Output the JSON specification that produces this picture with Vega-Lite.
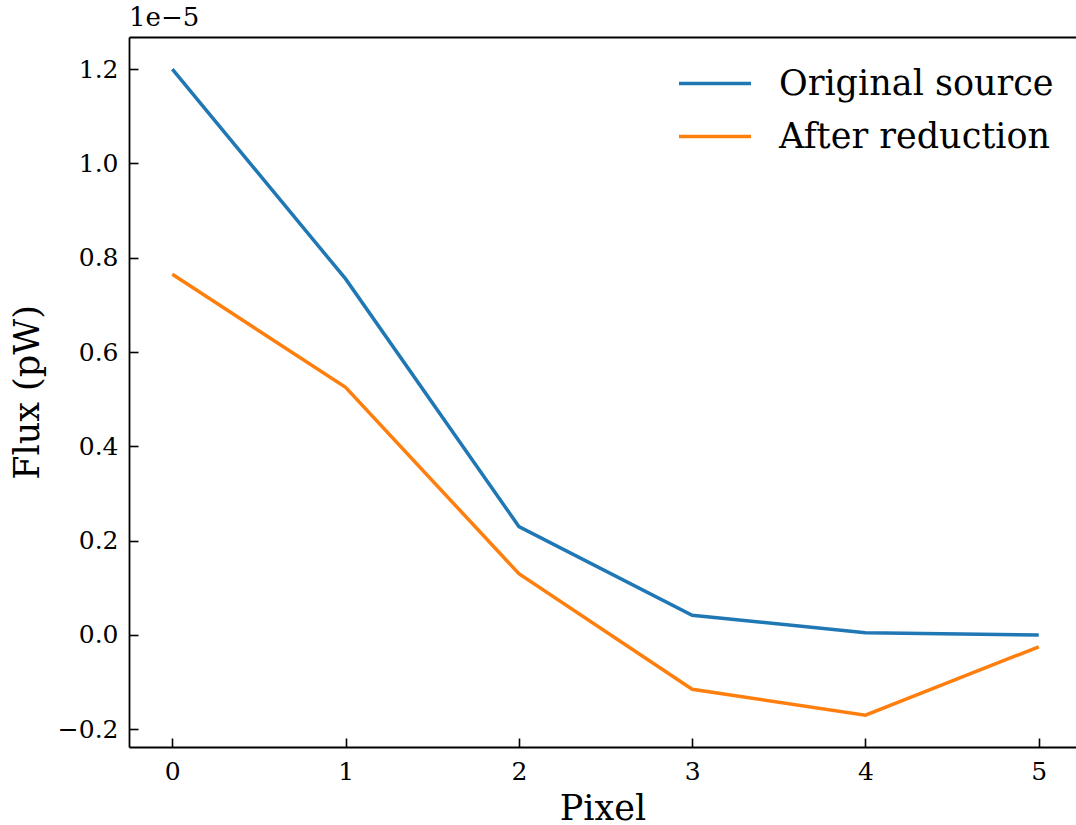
{
  "$schema": "https://vega.github.io/schema/vega-lite/v6.json",
  "width": 947,
  "height": 710,
  "autosize": {"type": "none"},
  "padding": {"left": 129, "top": 37, "right": 0, "bottom": 78},
  "background": "white",
  "config": {
    "font": "DejaVu Serif",
    "view": {"stroke": null},
    "axis": {
      "labelFont": "DejaVu Serif",
      "titleFont": "DejaVu Serif",
      "labelFontSize": 25,
      "titleFontSize": 35,
      "labelColor": "black",
      "titleColor": "black",
      "titleFontWeight": "normal",
      "domainColor": "black",
      "domainWidth": 1.8,
      "tickColor": "black",
      "tickWidth": 1.6,
      "tickSize": -9,
      "grid": false
    }
  },
  "title": {
    "text": "1e−5",
    "anchor": "start",
    "frame": "group",
    "fontSize": 26,
    "font": "DejaVu Serif",
    "fontWeight": "normal",
    "color": "black",
    "offset": 6
  },
  "data": {
    "values": [
      {"pixel": 0, "flux": 1.2, "series": "Original source"},
      {"pixel": 1, "flux": 0.755, "series": "Original source"},
      {"pixel": 2, "flux": 0.23, "series": "Original source"},
      {"pixel": 3, "flux": 0.042, "series": "Original source"},
      {"pixel": 4, "flux": 0.005, "series": "Original source"},
      {"pixel": 5, "flux": 0.0, "series": "Original source"},
      {"pixel": 0, "flux": 0.765, "series": "After reduction"},
      {"pixel": 1, "flux": 0.525, "series": "After reduction"},
      {"pixel": 2, "flux": 0.13, "series": "After reduction"},
      {"pixel": 3, "flux": -0.115, "series": "After reduction"},
      {"pixel": 4, "flux": -0.17, "series": "After reduction"},
      {"pixel": 5, "flux": -0.025, "series": "After reduction"}
    ]
  },
  "resolve": {"axis": {"x": "independent"}},
  "layer": [
    {
      "mark": {"type": "line", "strokeWidth": 3.5, "clip": true},
      "encoding": {
        "x": {
          "field": "pixel",
          "type": "quantitative",
          "scale": {"domain": [-0.25, 5.215], "nice": false, "zero": false},
          "axis": {
            "title": "Pixel",
            "values": [0, 1, 2, 3, 4, 5],
            "format": "d",
            "labelPadding": 21,
            "titlePadding": 7
          }
        },
        "y": {
          "field": "flux",
          "type": "quantitative",
          "scale": {"domain": [-0.2375, 1.268], "nice": false, "zero": false},
          "axis": {
            "title": "Flux (pW)",
            "values": [-0.2, 0, 0.2, 0.4, 0.6, 0.8, 1.0, 1.2],
            "format": ".1f",
            "labelPadding": 20,
            "titlePadding": 12
          }
        },
        "color": {
          "field": "series",
          "type": "nominal",
          "scale": {"domain": ["Original source", "After reduction"], "range": ["#1f77b4", "#ff7f0e"]},
          "legend": {
            "title": null,
            "orient": "none",
            "legendX": 548,
            "legendY": 29,
            "padding": 0,
            "symbolType": "stroke",
            "symbolSize": 5184,
            "symbolStrokeWidth": 3.5,
            "labelFont": "DejaVu Serif",
            "labelFontSize": 35,
            "labelColor": "black",
            "labelOffset": 26,
            "clipHeight": 35,
            "rowPadding": 17,
            "labelLimit": 500
          }
        }
      }
    },
    {
      "mark": {"type": "line", "opacity": 0},
      "encoding": {
        "x": {
          "field": "pixel",
          "type": "quantitative",
          "axis": {"orient": "top", "title": null, "labels": false, "ticks": false}
        },
        "y": {"field": "flux", "type": "quantitative"}
      }
    }
  ]
}
